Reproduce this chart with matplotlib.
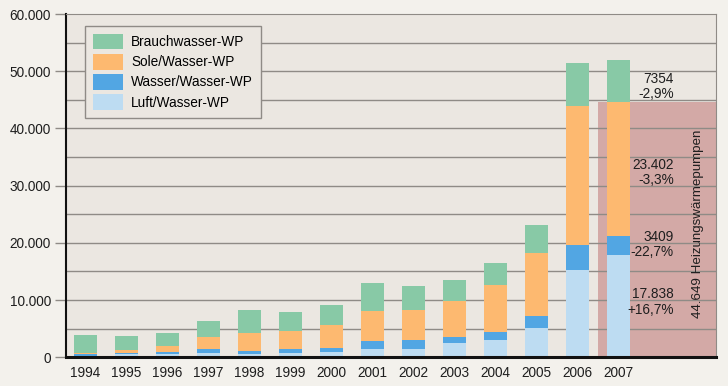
"""Absatz Wärmepumpen in Deutschland 1994-2007, gestapelte Säulen."""
import matplotlib
matplotlib.use("Agg")
import matplotlib.pyplot as plt
from matplotlib.patches import Patch, Rectangle
from matplotlib.ticker import FuncFormatter, MultipleLocator

years = ["1994", "1995", "1996", "1997", "1998", "1999", "2000",
         "2001", "2002", "2003", "2004", "2005", "2006", "2007"]
luft = [200, 500, 600, 800, 600, 800, 1000, 1400, 1500, 2450, 3000, 5070, 15285, 17838]
wasser = [300, 300, 300, 600, 550, 600, 650, 1450, 1470, 1100, 1450, 2100, 4410, 3409]
sole = [300, 500, 1100, 2100, 3150, 3200, 4050, 5240, 5300, 6290, 8150, 11010, 24201, 23402]
brauch = [3100, 2500, 2200, 2900, 3970, 3300, 3500, 4950, 4190, 3620, 3850, 4890, 7574, 7354]

labels_2007 = [("7354\n-2,9%", 47300), ("23.402\n-3,3%", 32300),
               ("3409\n-22,7%", 19700), ("17.838\n+16,7%", 9700)]
heizung_total = 44649
heizung_label = "44.649 Heizungswärmepumpen"

C_LUFT = "#bddcf2"
C_WASSER = "#52a6e3"
C_SOLE = "#fdb970"
C_BRAUCH = "#88c9a6"
C_ROSE = "#d3a9a6"
BG_FIG = "#f3f1ec"
BG_AX = "#ebe7e1"

plt.rcParams.update({
    "font.family": ["Liberation Sans", "DejaVu Sans"],
    "font.size": 9.8,
})

fig = plt.figure(figsize=(7.28, 3.86), dpi=100, facecolor=BG_FIG)
ax = fig.add_axes([0.0907, 0.0744, 0.8928, 0.8893], facecolor=BG_AX)

x = list(range(len(years)))
n = len(years)

# Heizungswärmepumpen 2007 block behind last bar
ax.add_patch(Rectangle((n - 1.5, 0), 10, heizung_total, facecolor=C_ROSE,
                       edgecolor="none", zorder=0.5))

for yv in range(5000, 60000, 5000):
    ax.axhline(yv, color="#8f8b86", linewidth=1.0, zorder=1)

w = 0.56
ax.bar(x, luft, width=w, color=C_LUFT, zorder=2)
bottom = list(luft)
ax.bar(x, wasser, width=w, bottom=bottom, color=C_WASSER, zorder=2)
bottom = [a + b for a, b in zip(bottom, wasser)]
ax.bar(x, sole, width=w, bottom=bottom, color=C_SOLE, zorder=2)
bottom = [a + b for a, b in zip(bottom, sole)]
ax.bar(x, brauch, width=w, bottom=bottom, color=C_BRAUCH, zorder=2)

for txt, yv in labels_2007:
    ax.text(14.35, yv, txt, ha="right", va="center", fontsize=9.8,
            linespacing=1.15, color="#1e1e1e", zorder=3)
ax.text(14.94, 23400, heizung_label, rotation=90,
        ha="center", va="center", fontsize=9.6, color="#1e1e1e", zorder=3)

ax.set_xlim(-0.476, 15.38)
ax.set_ylim(0, 60000)
ax.set_xticks(x)
ax.set_xticklabels(years)
ax.tick_params(axis="x", length=0, pad=6, labelsize=9.8, colors="#1e1e1e")
ax.yaxis.set_major_locator(MultipleLocator(10000))
ax.yaxis.set_major_formatter(FuncFormatter(lambda v, p: f"{int(v):,}".replace(",", ".")))
ax.tick_params(axis="y", length=8, width=1.0, color="#8f8b86", pad=3,
               labelsize=9.8, labelcolor="#1e1e1e")

ax.spines["left"].set_color("#111111")
ax.spines["left"].set_linewidth(1.5)
ax.spines["bottom"].set_color("#111111")
ax.spines["bottom"].set_linewidth(2.2)
ax.spines["top"].set_color("#8f8b86")
ax.spines["right"].set_color("#8f8b86")
for s in ax.spines.values():
    s.set_zorder(4)

handles = [Patch(facecolor=C_BRAUCH, label="Brauchwasser-WP"),
           Patch(facecolor=C_SOLE, label="Sole/Wasser-WP"),
           Patch(facecolor=C_WASSER, label="Wasser/Wasser-WP"),
           Patch(facecolor=C_LUFT, label="Luft/Wasser-WP")]
leg = ax.legend(handles=handles, loc="upper left", bbox_to_anchor=(0.029, 0.965),
                borderaxespad=0, fancybox=False, framealpha=1, facecolor=BG_AX,
                edgecolor="#8f8b86", fontsize=9.8, handlelength=2.2, handleheight=1.35,
                labelspacing=0.35, borderpad=0.6, handletextpad=0.6)
leg.get_frame().set_linewidth(1.0)
leg.set_zorder(5)

fig.savefig("out.png", dpi=100, facecolor=BG_FIG)
